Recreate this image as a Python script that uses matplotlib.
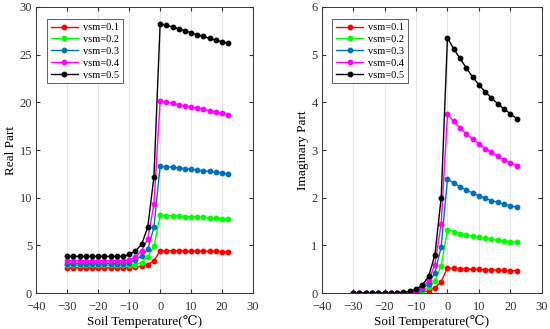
import numpy as np
import matplotlib
matplotlib.use('Agg')
import matplotlib.pyplot as plt

plt.rcParams['font.family'] = ['Liberation Serif', 'DejaVu Serif']

temps = list(range(-30, 0, 2)) + list(range(0, 24, 2))
labels = ['vsm=0.1', 'vsm=0.2', 'vsm=0.3', 'vsm=0.4', 'vsm=0.5']
colors = ['#ff0000', '#00ff00', '#0072bd', '#ff00ff', '#000000']

# real part, frozen part (-30..-2) then thawed part (0..22)
real_01 = [2.65] * 10 + [2.68, 2.72, 2.82, 3.0, 3.4] + \
    [4.45, 4.45, 4.44, 4.44, 4.43, 4.42, 4.41, 4.40, 4.39, 4.38, 4.36, 4.35]
real_02 = [2.9] * 10 + [2.93, 3.0, 3.2, 3.8, 4.9] + \
    [8.15, 8.12, 8.1, 8.07, 8.03, 8.0, 7.96, 7.93, 7.89, 7.85, 7.8, 7.75]
real_03 = [3.1] * 10 + [3.2, 3.5, 3.9, 4.6, 6.9] + \
    [13.3, 13.25, 13.2, 13.12, 13.05, 12.98, 12.9, 12.82, 12.75, 12.67, 12.58, 12.5]
real_04 = [3.4] * 10 + [3.5, 3.8, 4.4, 5.7, 9.3] + \
    [20.1, 20.0, 19.88, 19.75, 19.62, 19.5, 19.37, 19.25, 19.12, 19.0, 18.85, 18.7]
real_05 = [3.85] * 10 + [4.05, 4.4, 5.1, 6.9, 12.2] + \
    [28.2, 28.1, 27.9, 27.7, 27.5, 27.3, 27.1, 26.9, 26.7, 26.5, 26.35, 26.2]

imag_01 = [0.0] * 10 + [0.01, 0.02, 0.05, 0.11, 0.24] + \
    [0.53, 0.52, 0.51, 0.51, 0.50, 0.50, 0.49, 0.49, 0.48, 0.48, 0.47, 0.47]
imag_02 = [0.0] * 10 + [0.02, 0.05, 0.12, 0.26, 0.57] + \
    [1.33, 1.29, 1.25, 1.22, 1.19, 1.17, 1.15, 1.13, 1.11, 1.10, 1.08, 1.07]
imag_03 = [0.0] * 9 + [0.01, 0.04, 0.09, 0.2, 0.42, 0.97] + \
    [2.39, 2.31, 2.23, 2.16, 2.10, 2.04, 1.99, 1.94, 1.90, 1.86, 1.83, 1.80]
imag_04 = [0.0] * 9 + [0.02, 0.05, 0.12, 0.27, 0.6, 1.45] + \
    [3.75, 3.60, 3.46, 3.34, 3.23, 3.13, 3.03, 2.95, 2.87, 2.80, 2.73, 2.67]
imag_05 = [0.0] * 8 + [0.02, 0.04, 0.08, 0.17, 0.35, 0.8, 2.0] + \
    [5.35, 5.12, 4.92, 4.72, 4.53, 4.37, 4.22, 4.09, 3.97, 3.86, 3.76, 3.66]

real_all = [real_01, real_02, real_03, real_04, real_05]
imag_all = [imag_01, imag_02, imag_03, imag_04, imag_05]

fig = plt.figure(figsize=(5.5, 3.29), dpi=100)
ax1 = fig.add_axes([0.066, 0.109, 0.394, 0.870])
ax2 = fig.add_axes([0.585, 0.109, 0.400, 0.870])


def draw(ax, data, ylabel, ylim, yticks):
    for vals, c, lab in zip(data, colors, labels):
        ax.plot(temps, vals, '-o', color=c, lw=1.0, ms=3.2, label=lab)
    ax.set_xlim(-40, 30)
    ax.set_ylim(*ylim)
    ax.set_xticks(np.arange(-40, 31, 10))
    ax.set_yticks(yticks)
    ax.grid(axis='x', color='#e6e6e6', lw=0.8)
    ax.set_axisbelow(True)
    ax.tick_params(direction='in', top=True, right=True, length=3,
                   labelsize=9, colors='#333333')
    ax.tick_params(axis='x', pad=6)
    ax.tick_params(axis='y', pad=3)
    for s in ax.spines.values():
        s.set_color('#333333')
        s.set_linewidth(0.7)
    ax.set_xlabel('Soil Temperature(\u2103)', fontsize=9.5, labelpad=1)
    ax.set_ylabel(ylabel, fontsize=9.5, labelpad=2)
    leg = ax.legend(loc='upper left', fontsize=7.5, frameon=True, fancybox=False,
                    edgecolor='#333333', handlelength=2.6, borderpad=0.35,
                    labelspacing=0.25, handletextpad=0.5,
                    bbox_to_anchor=(0.025, 0.975))
    leg.get_frame().set_linewidth(0.7)


draw(ax1, real_all, 'Real Part', (0, 30), np.arange(0, 31, 5))
draw(ax2, imag_all, 'Imaginary Part', (0, 6), np.arange(0, 7, 1))

fig.savefig('out.png', dpi=100)
